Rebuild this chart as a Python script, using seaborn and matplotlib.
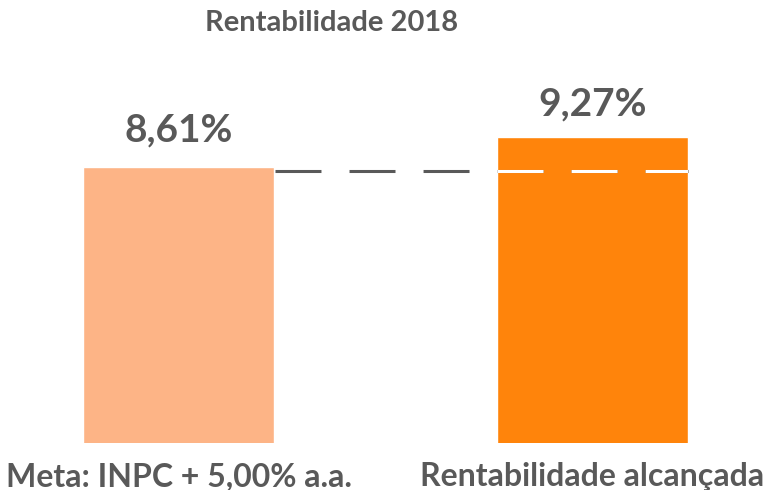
import matplotlib
matplotlib.use("Agg")
import matplotlib.pyplot as plt
import seaborn as sns
import pandas as pd

categorias = ["Meta: INPC + 5,00% a.a.", "Rentabilidade alcançada"]
valores = [8.61, 9.27]
rotulos = ["8,61%", "9,27%"]
linha_meta = 8.53
titulo = "Rentabilidade 2018"

cores = ["#FDB486", "#FF840B"]
cinza = "#595959"

sns.set_theme(style="white")
plt.rcParams["font.family"] = ["Lato", "DejaVu Sans"]
plt.rcParams["lines.scale_dashes"] = False

df = pd.DataFrame({"categoria": categorias, "valor": valores})

fig = plt.figure(figsize=(7.67, 4.9), dpi=100)
ax = fig.add_axes([0, 47 / 490, 1, 443 / 490])

sns.barplot(data=df, x="categoria", y="valor", hue="categoria",
            palette=cores, width=0.461, dodge=False, legend=False,
            saturation=1, ax=ax)

ax.set_xlim(-178.5 / 414, (767 - 178.5) / 414)
ax.set_ylim(2.54, 2.54 + 443 / 45.45)

# valores acima das barras
for i, (v, r) in enumerate(zip(valores, rotulos)):
    ax.annotate(r, (i, v), xytext=(0, 14 if i == 0 else 11), textcoords="offset points",
                ha="center", va="bottom", fontsize=28, fontweight="bold", color=cinza)

# linha tracejada da meta
w = 0.461
xs = [0 + w / 2 + 0.002, 1 + w / 2]
ax.plot(xs, [linha_meta, linha_meta], color=cinza, lw=2.2,
        dashes=(33.1, 20.2), dash_capstyle="butt", zorder=3)
ln, = ax.plot(xs, [linha_meta, linha_meta], color="white", lw=2.2,
              dashes=(33.1, 20.2), dash_capstyle="butt", zorder=4)
ln.set_clip_path(ax.patches[1])

ax.set_xlabel("")
ax.set_ylabel("")
ax.set_yticks([])
for s in ax.spines.values():
    s.set_visible(False)
ax.tick_params(axis="x", length=0, pad=14)
for t in ax.get_xticklabels():
    t.set_fontsize(23)
    t.set_fontweight("bold")
    t.set_color(cinza)

fig.text(332 / 767, 1 - 23 / 490, titulo, ha="center", va="center",
         fontsize=21, fontweight="bold", color=cinza)

fig.savefig("out.png", dpi=100)
